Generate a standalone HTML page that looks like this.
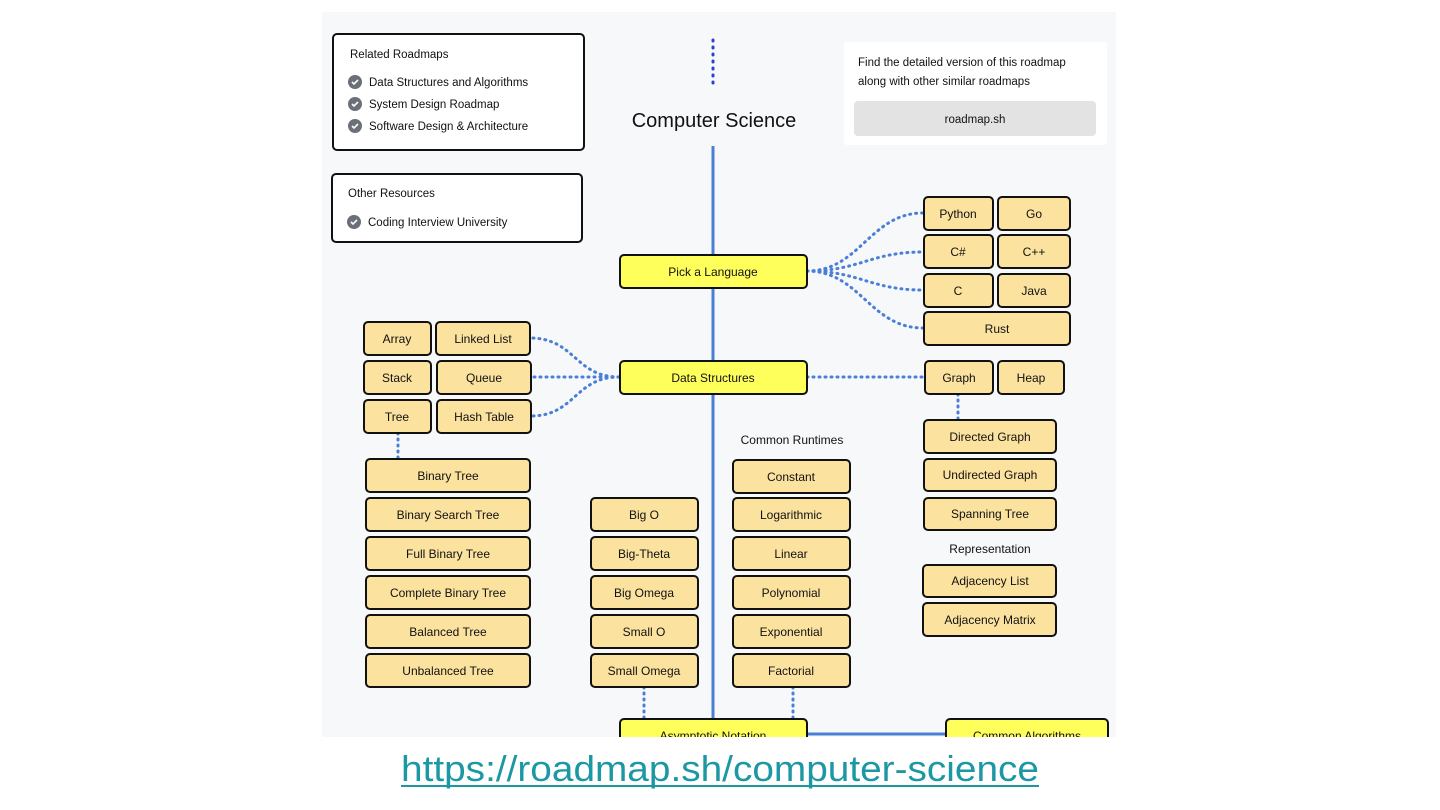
<!DOCTYPE html>
<html><head><meta charset="utf-8"><style>
html,body{margin:0;padding:0;background:#fff;width:1440px;height:810px;overflow:hidden}
svg text{font-family:"Liberation Sans",sans-serif}
</style></head><body>
<svg width="1440" height="810" viewBox="0 0 1440 810" xmlns="http://www.w3.org/2000/svg">
<defs><clipPath id="cp"><rect x="322" y="12" width="794" height="725"/></clipPath></defs>
<rect x="0" y="0" width="1440" height="810" fill="#fff"/>
<g clip-path="url(#cp)">
<rect x="322" y="12" width="794" height="725" fill="#f7f8fa"/>
<line x1="713" y1="146" x2="713" y2="737" stroke="#4a7fd6" stroke-width="3"/>
<line x1="807" y1="734" x2="945" y2="734" stroke="#4a7fd6" stroke-width="3"/>
<line x1="713" y1="40" x2="713" y2="88" stroke="#2b3fd1" stroke-width="3" stroke-dasharray="1,6" stroke-linecap="round"/>
<g fill="none" stroke="#4a7fd6" stroke-width="3" stroke-dasharray="1,5" stroke-linecap="round">
<path d="M807 271 C860 271 870 213 923 213"/>
<path d="M807 271 C860 271 870 252 923 252"/>
<path d="M807 271 C860 271 870 290 923 290"/>
<path d="M807 271 C860 271 870 328 923 328"/>
<path d="M619 377 C575 377 575 338 530 338"/>
<path d="M619 377 L531 377"/>
<path d="M619 377 C575 377 575 416 531 416"/>
<path d="M807 377 L924 377"/>
<path d="M398 433 L398 458"/>
<path d="M958 394 L958 419"/>
<path d="M644 687 L644 718"/>
<path d="M793 687 L793 718"/>
</g>
<rect x="333" y="34" width="251" height="116" rx="4" fill="#fff" stroke="#111" stroke-width="2"/>
<text x="350" y="58" font-size="11.5" fill="#111">Related Roadmaps</text>
<rect x="332" y="174" width="250" height="68" rx="4" fill="#fff" stroke="#111" stroke-width="2"/>
<text x="348" y="197" font-size="11.5" fill="#111">Other Resources</text>
<g fill="#6b6f78"><circle cx="355" cy="82" r="7"/><circle cx="355" cy="104" r="7"/><circle cx="355" cy="126" r="7"/><circle cx="354" cy="222" r="7"/></g>
<g stroke="#fff" stroke-width="1.6" fill="none"><path d="M352 82 l2 2 l4 -4"/><path d="M352 104 l2 2 l4 -4"/><path d="M352 126 l2 2 l4 -4"/><path d="M351 222 l2 2 l4 -4"/></g>
<g font-size="11.5" fill="#111">
<text x="369" y="86">Data Structures and Algorithms</text>
<text x="369" y="108">System Design Roadmap</text>
<text x="369" y="130">Software Design &amp; Architecture</text>
<text x="368" y="226">Coding Interview University</text>
</g>
<text x="714" y="127" font-size="20" text-anchor="middle" fill="#111">Computer Science</text>
<rect x="844" y="42" width="263" height="103" rx="3" fill="#fff"/>
<text x="858" y="66" font-size="11.5" fill="#111">Find the detailed version of this roadmap</text>
<text x="858" y="85" font-size="11.5" fill="#111">along with other similar roadmaps</text>
<rect x="854" y="101" width="242" height="35" rx="4" fill="#e3e3e3"/>
<text x="975" y="123" font-size="11.5" text-anchor="middle" fill="#111">roadmap.sh</text>
<g fill="#ffff5c" stroke="#111" stroke-width="2">
<rect x="620" y="255" width="187" height="33" rx="4"/>
<rect x="620" y="361" width="187" height="33" rx="4"/>
<rect x="620" y="719" width="187" height="33" rx="4"/>
<rect x="946" y="719" width="162" height="33" rx="4"/>
</g>
<g font-size="12" text-anchor="middle" fill="#111">
<text x="713" y="276">Pick a Language</text>
<text x="713" y="382">Data Structures</text>
<text x="713" y="740">Asymptotic Notation</text>
<text x="1027" y="740">Common Algorithms</text>
</g>
<g fill="#fce29f" stroke="#111" stroke-width="2">
<rect x="924" y="197" width="69" height="33" rx="4"/><rect x="998" y="197" width="72" height="33" rx="4"/>
<rect x="924" y="235" width="69" height="33" rx="4"/><rect x="998" y="235" width="72" height="33" rx="4"/>
<rect x="924" y="274" width="69" height="33" rx="4"/><rect x="998" y="274" width="72" height="33" rx="4"/>
<rect x="924" y="312" width="146" height="33" rx="4"/>
<rect x="364" y="322" width="67" height="33" rx="4"/><rect x="436" y="322" width="94" height="33" rx="4"/>
<rect x="364" y="361" width="67" height="33" rx="4"/><rect x="437" y="361" width="94" height="33" rx="4"/>
<rect x="364" y="400" width="67" height="33" rx="4"/><rect x="437" y="400" width="94" height="33" rx="4"/>
<rect x="925" y="361" width="68" height="33" rx="4"/><rect x="998" y="361" width="66" height="33" rx="4"/>
<rect x="924" y="420" width="132" height="33" rx="4"/>
<rect x="924" y="459" width="132" height="32" rx="4"/>
<rect x="924" y="498" width="132" height="32" rx="4"/>
<rect x="923" y="565" width="133" height="32" rx="4"/>
<rect x="923" y="603" width="133" height="33" rx="4"/>
<rect x="366" y="459" width="164" height="33" rx="4"/>
<rect x="366" y="498" width="164" height="33" rx="4"/>
<rect x="366" y="537" width="164" height="33" rx="4"/>
<rect x="366" y="576" width="164" height="33" rx="4"/>
<rect x="366" y="615" width="164" height="33" rx="4"/>
<rect x="366" y="654" width="164" height="33" rx="4"/>
<rect x="591" y="498" width="107" height="33" rx="4"/>
<rect x="591" y="537" width="107" height="33" rx="4"/>
<rect x="591" y="576" width="107" height="33" rx="4"/>
<rect x="591" y="615" width="107" height="33" rx="4"/>
<rect x="591" y="654" width="107" height="33" rx="4"/>
<rect x="733" y="460" width="117" height="33" rx="4"/>
<rect x="733" y="498" width="117" height="33" rx="4"/>
<rect x="733" y="537" width="117" height="33" rx="4"/>
<rect x="733" y="576" width="117" height="33" rx="4"/>
<rect x="733" y="615" width="117" height="33" rx="4"/>
<rect x="733" y="654" width="117" height="33" rx="4"/>
</g>
<g font-size="12" text-anchor="middle" fill="#111">
<text x="958" y="218">Python</text><text x="1034" y="218">Go</text>
<text x="958" y="256">C#</text><text x="1034" y="256">C++</text>
<text x="958" y="295">C</text><text x="1034" y="295">Java</text>
<text x="997" y="333">Rust</text>
<text x="397" y="343">Array</text><text x="483" y="343">Linked List</text>
<text x="397" y="382">Stack</text><text x="484" y="382">Queue</text>
<text x="397" y="421">Tree</text><text x="484" y="421">Hash Table</text>
<text x="959" y="382">Graph</text><text x="1031" y="382">Heap</text>
<text x="990" y="441">Directed Graph</text>
<text x="990" y="479">Undirected Graph</text>
<text x="990" y="518">Spanning Tree</text>
<text x="990" y="553">Representation</text>
<text x="990" y="585">Adjacency List</text>
<text x="990" y="624">Adjacency Matrix</text>
<text x="448" y="480">Binary Tree</text>
<text x="448" y="519">Binary Search Tree</text>
<text x="448" y="558">Full Binary Tree</text>
<text x="448" y="597">Complete Binary Tree</text>
<text x="448" y="636">Balanced Tree</text>
<text x="448" y="675">Unbalanced Tree</text>
<text x="644" y="519">Big O</text>
<text x="644" y="558">Big-Theta</text>
<text x="644" y="597">Big Omega</text>
<text x="644" y="636">Small O</text>
<text x="644" y="675">Small Omega</text>
<text x="792" y="444">Common Runtimes</text>
<text x="791" y="481">Constant</text>
<text x="791" y="519">Logarithmic</text>
<text x="791" y="558">Linear</text>
<text x="791" y="597">Polynomial</text>
<text x="791" y="636">Exponential</text>
<text x="791" y="675">Factorial</text>
</g>
</g>
<text x="720" y="781" font-size="36" text-anchor="middle" fill="#1b98a3" textLength="638" lengthAdjust="spacingAndGlyphs">https://roadmap.sh/computer-science</text>
<line x1="401" y1="786" x2="1039" y2="786" stroke="#1b98a3" stroke-width="2"/>
</svg>
</body></html>
